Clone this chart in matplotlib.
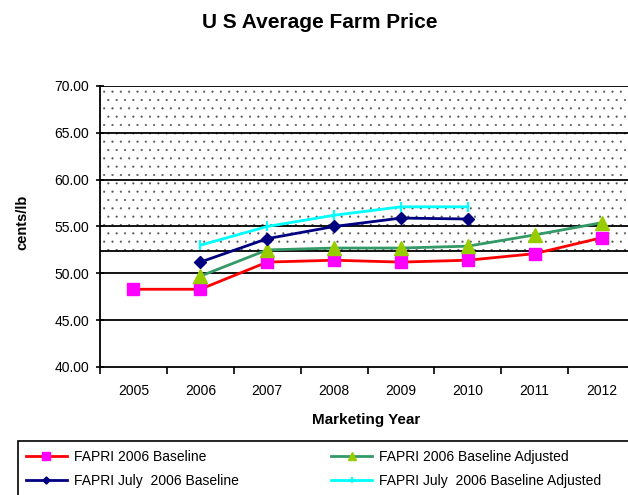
import matplotlib as mpl
mpl.use('Agg')
import matplotlib.pyplot as plt
from matplotlib.patches import Rectangle

plt.rcParams['font.family'] = ['Liberation Sans', 'DejaVu Sans']
plt.rcParams['hatch.linewidth'] = 0.3
plt.rcParams['hatch.color'] = '#555555'

years = ['2005', '2006', '2007', '2008', '2009', '2010', '2011', '2012']
baseline = [48.3, 48.3, 51.2, 51.4, 51.2, 51.4, 52.1, 53.8]
baseline_adj = [None, 49.7, 52.5, 52.7, 52.7, 52.9, 54.1, 55.4]
july = [None, 51.2, 53.7, 55.0, 55.9, 55.8, None, None]
july_adj = [None, 53.0, 55.0, 56.2, 57.1, 57.1, None, None]
shade_low, shade_high = 52.35, 70.0

labels = ['FAPRI 2006 Baseline', 'FAPRI July  2006 Baseline',
          'FAPRI 2006 Baseline Adjusted', 'FAPRI July  2006 Baseline Adjusted']


def clean(vals):
    xs = [i for i, v in enumerate(vals) if v is not None]
    ys = [v for v in vals if v is not None]
    return xs, ys


fig = plt.figure(figsize=(6.28, 4.95), dpi=100)
W, H = 628, 495
ax = fig.add_axes([100 / W, (H - 367) / H, 535 / W, (367 - 86) / H])

# dotted band
ax.axhspan(shade_low, shade_high, facecolor='white', edgecolor='#555555',
           hatch='..', linewidth=0, zorder=0)

for y in [45, 50, 55, 60, 65, 70, shade_low]:
    ax.axhline(y, color='black', lw=1.3, zorder=1)

x, y = clean(baseline)
l1, = ax.plot(x, y, color='#FF0000', lw=2, marker='s', ms=9,
              mfc='#FF00FF', mec='#FF00FF', zorder=3)
x, y = clean(july)
l2, = ax.plot(x, y, color='#000080', lw=2, marker='D', ms=6,
              mfc='#000080', mec='#000080', zorder=4)
x, y = clean(baseline_adj)
l3, = ax.plot(x, y, color='#339966', lw=2, marker='^', ms=10,
              mfc='#99CC00', mec='#99CC00', zorder=3)
x, y = clean(july_adj)
l4, = ax.plot(x, y, color='#00FFFF', lw=2, marker='|', ms=7,
              mec='#00FFFF', mew=1.5, zorder=5)

ax.set_xlim(-0.5, 7.5)
ax.set_ylim(40, 70)
ax.set_yticks(range(40, 71, 5))
ax.set_yticklabels(['%.2f' % v for v in range(40, 71, 5)], fontsize=10)
ax.tick_params(axis='y', direction='inout', length=6, width=1.2, pad=5)

ax.set_xticks([i - 0.5 for i in range(9)])
ax.set_xticklabels([])
ax.set_xticks(range(len(years)), minor=True)
ax.set_xticklabels(years, minor=True, fontsize=10)
ax.tick_params(axis='x', which='major', direction='out', length=5, width=1.2)
ax.tick_params(axis='x', which='minor', length=0, pad=12)

for s in ['top', 'right']:
    ax.spines[s].set_visible(False)
for s in ['left', 'bottom']:
    ax.spines[s].set_linewidth(1.3)

fig.text(320 / W, 1 - 22 / H, 'U S Average Farm Price', ha='center', va='center',
         fontsize=15, fontweight='bold')
fig.text(22 / W, 1 - 222 / H, 'cents/lb', ha='center', va='center',
         rotation=90, fontsize=10.5, fontweight='bold')
fig.text(366 / W, 1 - 420 / H, 'Marketing Year', ha='center', va='center',
         fontsize=11, fontweight='bold')

fig.patches.append(Rectangle((18 / W, -0.05), 640 / W, (H - 441) / H + 0.05,
                             transform=fig.transFigure, fill=False,
                             edgecolor='black', lw=1.2))
fig.legend([l1, l2, l3, l4], labels, ncol=2, loc='upper left',
           bbox_to_anchor=(20 / W, 1 - 444 / H), frameon=False, fontsize=10,
           handlelength=3.0, columnspacing=6.6, labelspacing=0.75,
           handletextpad=0.5, borderaxespad=0, markerscale=0.6)

plt.savefig('out.png', dpi=100)
